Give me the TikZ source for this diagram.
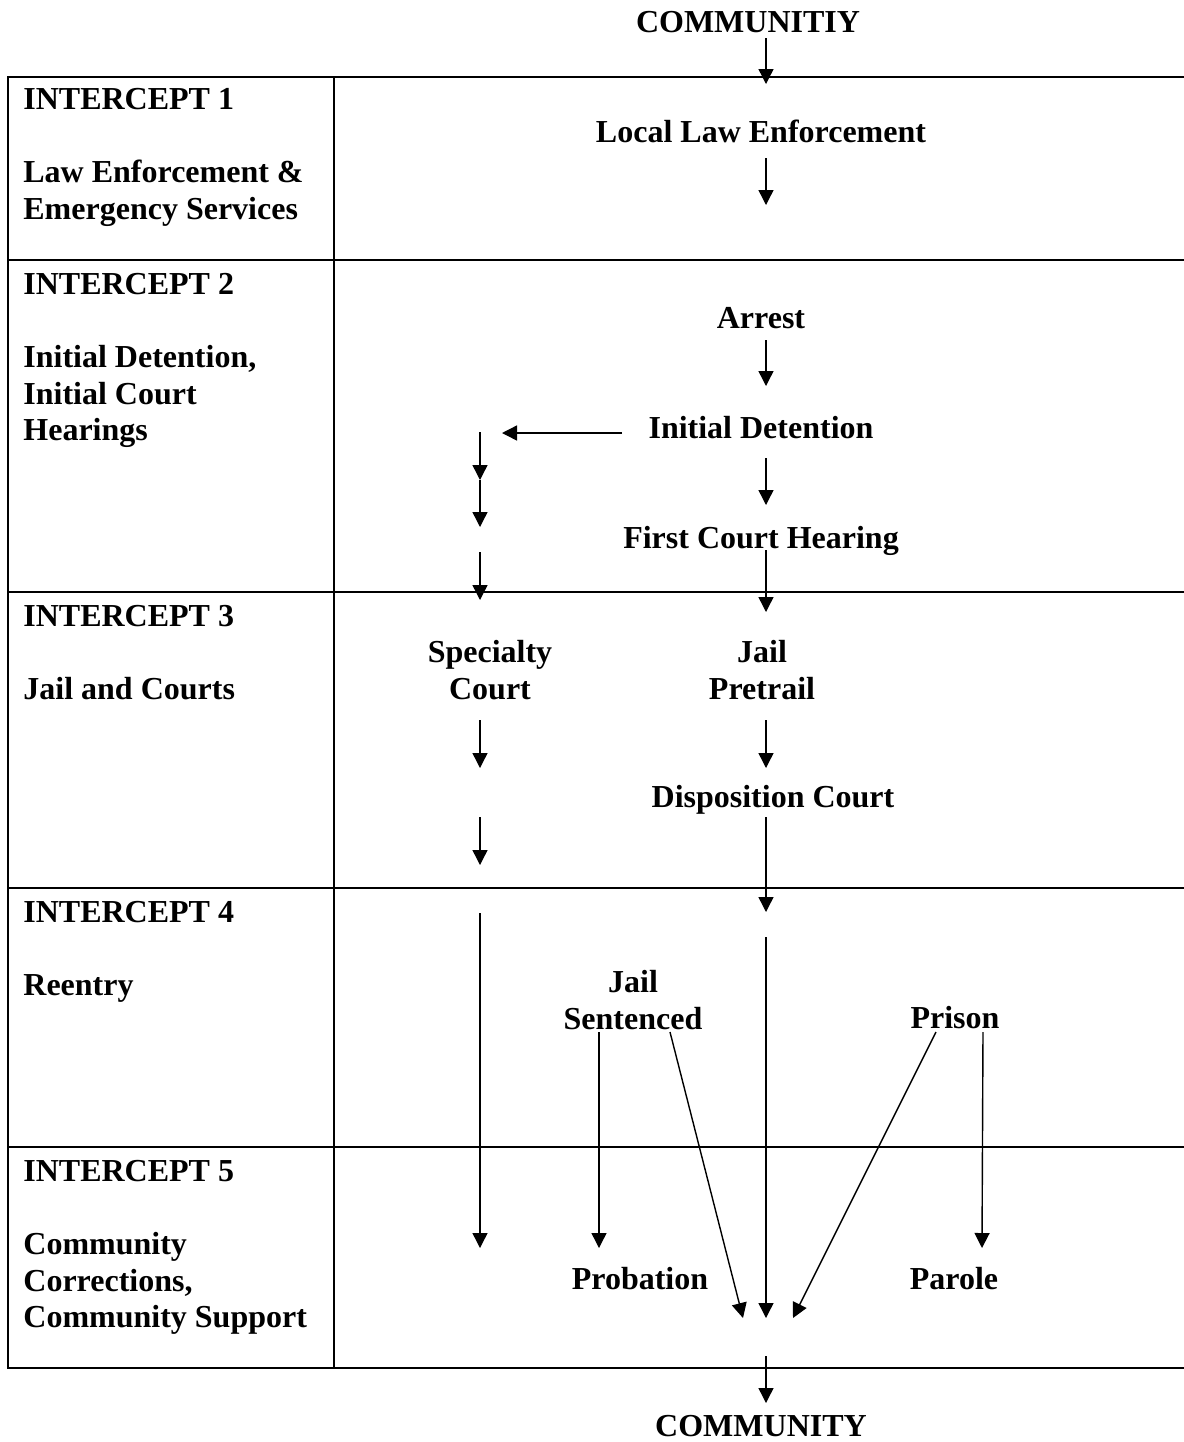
\documentclass[tikz,border=0pt]{standalone}
\usepackage{fontspec}
\setmainfont{Liberation Serif}
\usetikzlibrary{arrows.meta}
\tikzset{
  stage/.style={font=\bfseries\fontsize{16pt}{18.25pt}\selectfont,inner sep=0pt,anchor=base},
  stagetwo/.style={stage,align=center,anchor=north},
  intercept/.style={stage,align=left,anchor=north west},
  rule/.style={line width=1pt,draw=black},
  arrow/.style={-{Triangle[length=7.5pt,width=7.5pt]},line width=0.7pt,draw=black}
}
\begin{document}
\begin{tikzpicture}[x=0.5pt,y=-0.5pt]
    \useasboundingbox (0,0) rectangle (1184,1442);
    % table
    \draw[rule] (1184,77) -- (8,77) -- (8,1368) -- (1184,1368);
    \draw[rule] (334,77) -- (334,1368);
    \foreach \y in {260,592,888,1147}
      \draw[rule] (8,\y) -- (1184,\y);
    % intercepts
    \node[intercept] (int1) at (23,88) {INTERCEPT 1\\[18.25pt]Law Enforcement \&\\Emergency Services};
    \node[intercept] (int2) at (23,273) {INTERCEPT 2\\[18.25pt]Initial Detention,\\Initial Court\\Hearings};
    \node[intercept] (int3) at (23,605) {INTERCEPT 3\\[18.25pt]Jail and Courts};
    \node[intercept] (int4) at (23,901) {INTERCEPT 4\\[18.25pt]Reentry};
    \node[intercept] (int5) at (23,1160) {INTERCEPT 5\\[18.25pt]Community\\Corrections,\\Community Support};
    % stages
    \node[stage] (commin) at (748,32) {COMMUNITIY};
    \node[stage] (lle) at (761,142) {Local Law Enforcement};
    \node[stage] (arrest) at (761,328) {Arrest};
    \node[stage] (detention) at (761,438) {Initial Detention};
    \node[stage] (hearing) at (761,548) {First Court Hearing};
    \node[stagetwo] (specialty) at (490,640) {Specialty\\Court};
    \node[stagetwo] (pretrial) at (762,640) {Jail\\Pretrail};
    \node[stage] (disposition) at (773,807) {Disposition Court};
    \node[stagetwo] (sentenced) at (633,970) {Jail\\Sentenced};
    \node[stage] (prison) at (955,1028) {Prison};
    \node[stage] (probation) at (640,1289) {Probation};
    \node[stage] (parole) at (954,1289) {Parole};
    \node[stage] (commout) at (761,1436) {COMMUNITY};
    % arrow ends
    \coordinate (inTop) at (766,38);      \coordinate (inEnd) at (766,84);
    \coordinate (lleOut) at (766,158);    \coordinate (lleEnd) at (766,205);
    \coordinate (arrOut) at (766,340);    \coordinate (arrEnd) at (766,386);
    \coordinate (detLeft) at (622,433);   \coordinate (detLeftEnd) at (502,433);
    \coordinate (detOut) at (766,458);    \coordinate (detEnd) at (766,505);
    \coordinate (fchOut) at (766,550);    \coordinate (fchEnd) at (766,612);
    \coordinate (divA) at (480,432);      \coordinate (divB) at (480,480);
    \coordinate (divC) at (480,527);
    \coordinate (divD) at (480,552);      \coordinate (divE) at (480,600);
    \coordinate (spcOut) at (480,720);    \coordinate (spcEnd) at (480,768);
    \coordinate (ptrOut) at (766,720);    \coordinate (ptrEnd) at (766,768);
    \coordinate (spcOutB) at (480,817);   \coordinate (spcEndB) at (480,865);
    \coordinate (dspOut) at (766,817);    \coordinate (dspEnd) at (766,912);
    \coordinate (spcOutC) at (480,913);   \coordinate (spcEndC) at (480,1248);
    \coordinate (mainOut) at (766,937);   \coordinate (mainEnd) at (766,1318);
    \coordinate (jsL) at (599,1032);      \coordinate (probEnd) at (599,1248);
    \coordinate (jsR) at (670,1032);      \coordinate (mergeL) at (743,1318);
    \coordinate (prL) at (936,1032);      \coordinate (mergeR) at (793,1318);
    \coordinate (prR) at (983,1032);      \coordinate (parEnd) at (982,1248);
    \coordinate (outTop) at (766,1356);   \coordinate (outEnd) at (766,1403);
    % arrows
    \draw[arrow] (inTop) -- (inEnd);
    \draw[arrow] (lleOut) -- (lleEnd);
    \draw[arrow] (arrOut) -- (arrEnd);
    \draw[arrow] (detLeft) -- (detLeftEnd);
    \draw[arrow] (detOut) -- (detEnd);
    \draw[arrow] (fchOut) -- (fchEnd);
    \draw[arrow] (divA) -- (divB);
    \draw[arrow] (divB) -- (divC);
    \draw[arrow] (divD) -- (divE);
    \draw[arrow] (spcOut) -- (spcEnd);
    \draw[arrow] (ptrOut) -- (ptrEnd);
    \draw[arrow] (spcOutB) -- (spcEndB);
    \draw[arrow] (dspOut) -- (dspEnd);
    \draw[arrow] (spcOutC) -- (spcEndC);
    \draw[arrow] (mainOut) -- (mainEnd);
    \draw[arrow] (jsL) -- (probEnd);
    \draw[arrow] (jsR) -- (mergeL);
    \draw[arrow] (prL) -- (mergeR);
    \draw[arrow] (prR) -- (parEnd);
    \draw[arrow] (outTop) -- (outEnd);
\end{tikzpicture}
\end{document}
